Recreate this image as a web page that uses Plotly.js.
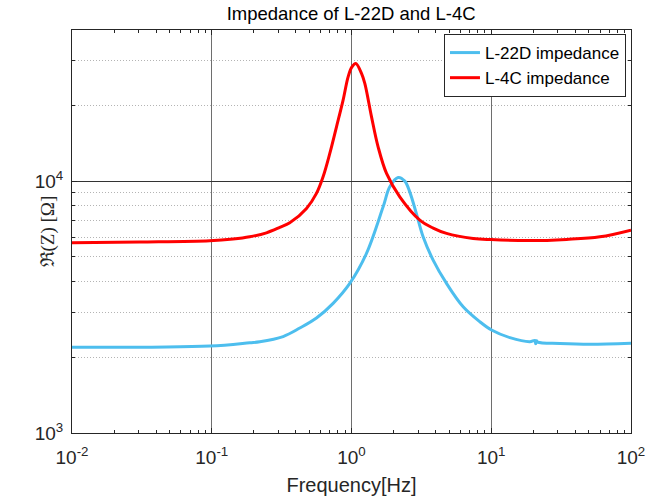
<!DOCTYPE html>
<html>
<head>
<meta charset="utf-8">
<script src="https://cdn.plot.ly/plotly-3.0.1.min.js"></script>
<style>html,body{margin:0;padding:0;background:#fff;}#chart{width:649px;height:504px;}</style>
</head>
<body>
<div id="chart"></div>
<script>
var freqL4C = [0.01, 0.0305, 0.0968, 0.142, 0.187, 0.2463, 0.3067, 0.3617, 0.4764, 0.5614, 0.626, 0.6994, 0.781, 0.8708, 0.9456, 1.005, 1.0735, 1.179, 1.245, 1.391, 1.55, 1.781, 2.216, 3.083, 3.84, 4.786, 7.42, 9.93, 18.9, 34.6, 59.9, 100];
var zL4C    = [5690, 5730, 5797, 5890, 6012, 6234, 6550, 6832, 7793, 8939, 10402, 12882, 16428, 20960, 25940, 28340, 29310, 26760, 24420, 17996, 13681, 10730, 8664, 7002, 6509, 6201, 5923, 5860, 5806, 5871, 6012, 6392];

var freqL22D = [0.01, 0.0968, 0.187, 0.2207, 0.324, 0.4266, 0.5614, 0.7385, 0.972, 1.28, 1.684, 1.88, 2.156, 2.407, 2.614, 2.92, 3.254, 3.838, 4.786, 6.294, 8.29, 10.05, 13.6, 18.9, 20.5, 20.8, 21.1, 21.5, 31, 50.8, 100];
var zL22D    = [2188, 2214, 2282, 2303, 2415, 2610, 2860, 3271, 3926, 5166, 7907, 9493, 10344, 10000, 9044, 7396, 6012, 4860, 3926, 3171, 2765, 2563, 2390, 2303, 2330, 2262, 2325, 2295, 2266, 2249, 2270];

var seriesNames = ['L-22D impedance', 'L-4C impedance'];
var xTickVals = [0.01, 0.1, 1, 10, 100];
var xTickText = ['10<sup>-2</sup>', '10<sup>-1</sup>', '10<sup>0</sup>', '10<sup>1</sup>', '10<sup>2</sup>'];
var yTickVals = [1000, 10000];
var yTickText = ['10<sup>3</sup>', '10<sup>4</sup>'];
var yTitle = 'ℜ(Z) [Ω]';

var traces = [
  {x: freqL22D, y: zL22D, name: seriesNames[0], type: 'scatter', mode: 'lines',
   line: {color: '#4DBEEE', width: 3, shape: 'spline', smoothing: 1}},
  {x: freqL4C, y: zL4C, name: seriesNames[1], type: 'scatter', mode: 'lines',
   line: {color: '#FF0000', width: 3, shape: 'spline', smoothing: 1}}
];

var fontFam = 'Liberation Sans, Arial, Helvetica, sans-serif';
var layout = {
  width: 649, height: 504,
  margin: {l: 72, r: 18, t: 30, b: 71},
  paper_bgcolor: '#ffffff', plot_bgcolor: '#ffffff',
  font: {family: fontFam, color: '#262626', size: 18},
  title: {text: 'Impedance of L-22D and L-4C', font: {family: fontFam, size: 18.5, color: '#000'},
          x: 0.541, xanchor: 'center', y: 0.973, yanchor: 'middle'},
  showlegend: true,
  legend: {x: 0.991, y: 0.99, xanchor: 'right', yanchor: 'top',
           bgcolor: '#ffffff', bordercolor: '#262626', borderwidth: 1,
           font: {family: fontFam, size: 17, color: '#000'}, tracegroupgap: 0},
  xaxis: {type: 'log', range: [-2, 2], tickvals: xTickVals, ticktext: xTickText,
          ticks: 'inside', ticklen: 5, tickcolor: '#262626', mirror: 'ticks',
          showline: true, linecolor: '#262626', linewidth: 1,
          showgrid: true, gridcolor: '#6e6e6e', gridwidth: 1,
          zeroline: false, tickfont: {size: 19, color: '#262626'}, ticklabelstandoff: 7,
          minor: {dtick: 'D1', ticks: 'inside', ticklen: 3, tickcolor: '#262626', showgrid: false},
          title: {text: 'Frequency[Hz]', font: {family: fontFam, size: 20, color: '#262626'}, standoff: 11}},
  yaxis: {type: 'log', range: [3, 4.6], tickvals: yTickVals, ticktext: yTickText,
          ticks: 'inside', ticklen: 5, tickcolor: '#262626', mirror: 'ticks',
          showline: true, linecolor: '#262626', linewidth: 1,
          showgrid: true, gridcolor: '#333333', gridwidth: 1,
          zeroline: false, tickfont: {size: 19, color: '#262626'}, ticklabelstandoff: 4,
          minor: {dtick: 'D1', ticks: 'inside', ticklen: 3, tickcolor: '#262626', showgrid: true,
                  gridcolor: '#b4b4b4', griddash: '1px,2px', gridwidth: 1}},
  annotations: [{text: yTitle, xref: 'paper', yref: 'paper', x: -0.043, y: 0.5,
                 xanchor: 'center', yanchor: 'middle', textangle: -90, showarrow: false,
                 font: {family: 'Liberation Serif, DejaVu Serif, serif', size: 19, color: '#262626'}}]
};

Plotly.newPlot('chart', traces, layout, {displayModeBar: false, staticPlot: true});
</script>
</body>
</html>
